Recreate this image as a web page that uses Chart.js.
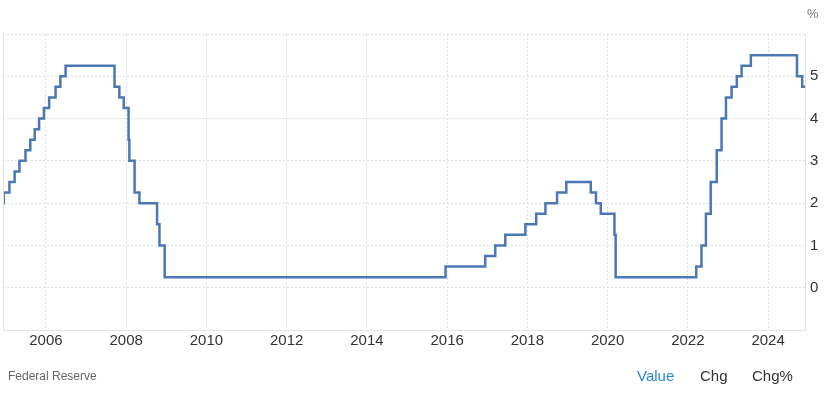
<!DOCTYPE html>
<html>
<head>
<meta charset="utf-8">
<script src="https://cdn.jsdelivr.net/npm/chart.js@4"></script>
<style>
    html, body { margin: 0; padding: 0; background: #fff; }
    body { width: 828px; height: 401px; position: relative; overflow: hidden; font-family: Arial, "Liberation Sans", sans-serif; }
    #chartWrap { position: absolute; left: 0; top: 0; width: 828px; height: 401px; }
    .unit { position: absolute; left: 807px; top: 6px; font-size: 13px; color: #777; }
    .source { position: absolute; left: 8px; top: 369px; font-size: 12px; color: #666; }
    .tabs { position: absolute; top: 367px; font-size: 15px; color: #333; }
</style>
</head>
<body>
<div id="chartWrap"><canvas id="rateChart" width="828" height="401"></canvas></div>
<div class="unit">%</div>
<div class="source">Federal Reserve</div>
<div class="tabs" style="left:637px;color:#2a86d6;">Value</div>
<div class="tabs" style="left:700px;">Chg</div>
<div class="tabs" style="left:752px;">Chg%</div>

<script>
// Fed funds target (upper bound), change dates as decimal years
const changeDates = [
    2004.86, 2004.95, 2005.09, 2005.22, 2005.34, 2005.49, 2005.61, 2005.72, 2005.83, 2005.95,
    2006.08, 2006.24, 2006.36, 2006.49, 2007.71, 2007.83, 2007.94, 2008.06, 2008.08, 2008.21,
    2008.33, 2008.77, 2008.83, 2008.96, 2015.96, 2016.95, 2017.20, 2017.45, 2017.95, 2018.22,
    2018.45, 2018.74, 2018.97, 2019.58, 2019.71, 2019.83, 2020.17, 2020.20, 2022.21, 2022.34,
    2022.45, 2022.57, 2022.72, 2022.84, 2022.95, 2023.09, 2023.22, 2023.34, 2023.57, 2024.72,
    2024.85, 2024.92
];
const rateValues = [
    2.00, 2.25, 2.50, 2.75, 3.00, 3.25, 3.50, 3.75, 4.00, 4.25,
    4.50, 4.75, 5.00, 5.25, 4.75, 4.50, 4.25, 3.50, 3.00, 2.25,
    2.00, 1.50, 1.00, 0.25, 0.50, 0.75, 1.00, 1.25, 1.50, 1.75,
    2.00, 2.25, 2.50, 2.25, 2.00, 1.75, 1.25, 0.25, 0.50, 1.00,
    1.75, 2.50, 3.25, 4.00, 4.50, 4.75, 5.00, 5.25, 5.50, 5.00,
    4.75, 4.75
];
const xTickYears = [2006, 2008, 2010, 2012, 2014, 2016, 2018, 2020, 2022, 2024];
const yTickValues = [0, 1, 2, 3, 4, 5];

const points = changeDates.map((d, i) => ({ x: d, y: rateValues[i] }));

// thin frame on the left edge of the plot
const leftEdge = {
    id: 'leftEdge',
    afterDraw(chart) {
        const a = chart.chartArea;
        const c = chart.ctx;
        c.save();
        c.strokeStyle = '#e3e3e3';
        c.lineWidth = 1;
        c.beginPath();
        c.moveTo(a.left + 0.5, a.top);
        c.lineTo(a.left + 0.5, a.bottom);
        c.stroke();
        c.restore();
    }
};

const ctx = document.getElementById('rateChart').getContext('2d');
new Chart(ctx, {
    type: 'line',
    data: {
        datasets: [{
            data: points,
            stepped: 'before',
            borderColor: '#4b78b5',
            borderWidth: 2.5,
            pointRadius: 0,
            fill: false
        }]
    },
    options: {
        responsive: false,
        animation: false,
        layout: { padding: { left: 3, top: 34, right: 0, bottom: 0 } },
        plugins: {
            legend: { display: false },
            tooltip: { enabled: false }
        },
        scales: {
            x: {
                type: 'linear',
                min: 2004.93,
                max: 2024.92,
                afterBuildTicks: function(scale) {
                    scale.ticks = xTickYears.map(v => ({ value: v }));
                },
                afterFit: function(scale) { scale.height = 71; },
                grid: {
                    color: '#dcdcdc',
                    drawTicks: false
                },
                border: { display: true, color: '#e3e3e3', dash: [2, 2] },
                ticks: {
                    padding: 2,
                    color: '#333',
                    font: { family: 'Arial, "Liberation Sans"', size: 15 },
                    maxRotation: 0,
                    callback: function(value) { return String(value); }
                }
            },
            y: {
                position: 'right',
                min: -1,
                max: 6,
                afterFit: function(scale) { scale.width = 23; },
                afterBuildTicks: function(scale) {
                    scale.ticks = [-1].concat(yTickValues, [6]).map(v => ({ value: v }));
                },
                grid: {
                    color: '#dcdcdc',
                    drawTicks: false
                },
                border: { display: true, color: '#e3e3e3', dash: [2, 2] },
                ticks: {
                    padding: 5,
                    color: '#333',
                    font: { family: 'Arial, "Liberation Sans"', size: 15 },
                    callback: function(value) {
                        return yTickValues.includes(value) ? String(value) : '';
                    }
                }
            }
        }
    },
    plugins: [leftEdge]
});
</script>
</body>
</html>
